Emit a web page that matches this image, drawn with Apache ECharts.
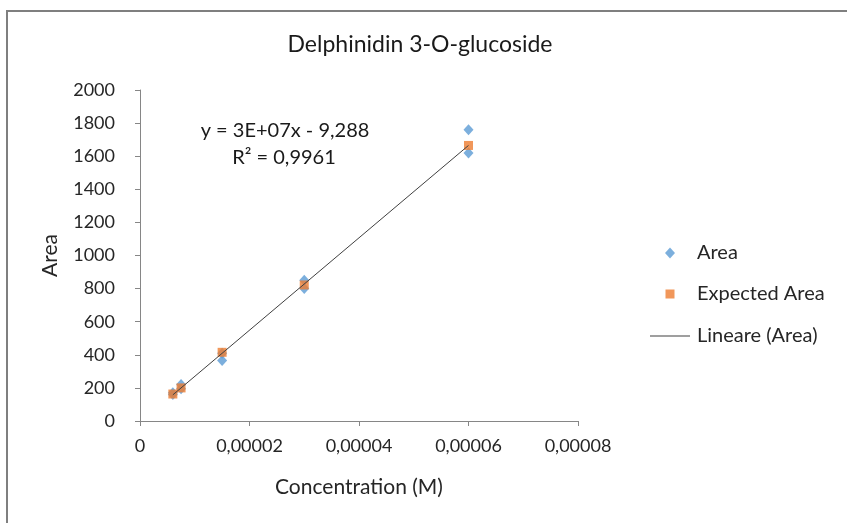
<!DOCTYPE html>
<html>
<head>
<meta charset="utf-8">
<script src="https://cdn.jsdelivr.net/npm/echarts@6/dist/echarts.min.js"></script>
<style>html,body{margin:0;padding:0;background:#fff;}#c{width:847px;height:523px;}</style>
</head>
<body>
<div id="c"></div>
<script>
// Data
const areaX = [0.000006, 0.000006, 0.0000075, 0.0000075, 0.000015, 0.000015, 0.00003, 0.00003, 0.00006, 0.00006];
const areaY = [170, 160, 220, 195, 410, 365, 850, 800, 1760, 1620];
const expX = [0.000006, 0.0000075, 0.000015, 0.00003, 0.00006];
const expY = [163, 200, 415, 822, 1665];
const trendX = [0.000006, 0.00006];
const trendY = [158, 1665];
const xTicks = ['0', '0,00002', '0,00004', '0,00006', '0,00008'];
const yTicks = ['0', '200', '400', '600', '800', '1000', '1200', '1400', '1600', '1800', '2000'];

const FONT = 'Lato';
const TXT = '#262626';
const AX = '#868686';

const chart = echarts.init(document.getElementById('c'));
const legendBase = {
  orient: 'vertical', itemGap: 0, padding: 0,
  textStyle: {fontFamily: FONT, fontSize: 20, color: TXT, lineHeight: 21}
};
chart.setOption({
  animation: false,
  backgroundColor: '#fff',
  title: {
    text: 'Delphinidin 3-O-glucoside', left: 420, top: 33, textAlign: 'center', padding: 0,
    textStyle: {fontFamily: FONT, fontSize: 23, fontWeight: 'normal', color: '#1a1a1a'}
  },
  grid: {left: 140, top: 90, width: 438, height: 331},
  xAxis: {
    type: 'value', min: 0, max: 0.00008, interval: 0.00002,
    axisLine: {lineStyle: {color: AX}},
    axisTick: {show: true, inside: false, length: 5, lineStyle: {color: AX}},
    splitLine: {show: false},
    axisLabel: {fontFamily: FONT, fontSize: 18, color: TXT, margin: 16,
      formatter: (v) => xTicks[Math.round(v / 0.00002)]},
    name: 'Concentration (M)', nameLocation: 'middle', nameGap: 56,
    nameTextStyle: {fontFamily: FONT, fontSize: 21, color: TXT}
  },
  yAxis: {
    type: 'value', min: 0, max: 2000, interval: 200,
    axisLine: {show: true, lineStyle: {color: AX}},
    axisTick: {show: true, inside: false, length: 5, lineStyle: {color: AX}},
    splitLine: {show: false},
    axisLabel: {fontFamily: FONT, fontSize: 18, color: TXT, margin: 25,
      formatter: (v) => yTicks[Math.round(v / 200)]},
    name: 'Area', nameLocation: 'middle', nameGap: 79,
    nameTextStyle: {fontFamily: FONT, fontSize: 21, color: TXT}
  },
  legend: [
    Object.assign({}, legendBase, {left: 665, top: 242.5, data: [{name: 'Area', icon: 'diamond'}], itemWidth: 10, itemHeight: 11,
      textStyle: Object.assign({}, legendBase.textStyle, {padding: [0, 0, 0, 17]})}),
    Object.assign({}, legendBase, {left: 665.5, top: 283.5, data: [{name: 'Expected Area', icon: 'rect'}], itemWidth: 9, itemHeight: 9,
      textStyle: Object.assign({}, legendBase.textStyle, {padding: [0, 0, 0, 17.5]})}),
    Object.assign({}, legendBase, {left: 650, top: 325.5, data: [{name: 'Lineare (Area)', icon: 'rect'}], itemWidth: 40, itemHeight: 1,
      textStyle: Object.assign({}, legendBase.textStyle, {padding: [0, 0, 0, 2]})})
  ],
  graphic: [
    {type: 'text', x: 285, y: 131, style: {text: 'y = 3E+07x - 9,288', font: '20px ' + FONT, fill: '#1a1a1a', align: 'center', verticalAlign: 'middle'}},
    {type: 'text', x: 284, y: 158, style: {text: 'R² = 0,9961', font: '20px ' + FONT, fill: '#1a1a1a', align: 'center', verticalAlign: 'middle'}},
    {type: 'line', shape: {x1: 6, y1: 11, x2: 847, y2: 11}, style: {stroke: '#7f7f7f', lineWidth: 2}},
    {type: 'line', shape: {x1: 7, y1: 11, x2: 7, y2: 523}, style: {stroke: '#7f7f7f', lineWidth: 2}}
  ],
  series: [
    {
      name: 'Area', type: 'scatter', symbol: 'diamond', symbolSize: [10, 11],
      itemStyle: {color: '#5B9BD5'}, z: 2,
      data: areaX.map((x, i) => [x, areaY[i]])
    },
    {
      name: 'Expected Area', type: 'scatter', symbol: 'rect', symbolSize: 9,
      itemStyle: {color: '#ED7D31'}, z: 3,
      data: expX.map((x, i) => [x, expY[i]])
    },
    {
      name: 'Lineare (Area)', type: 'line', symbol: 'none', z: 4,
      lineStyle: {color: '#404040', width: 1}, itemStyle: {color: '#404040'},
      data: trendX.map((x, i) => [x, trendY[i]])
    }
  ]
});
</script>
</body>
</html>
